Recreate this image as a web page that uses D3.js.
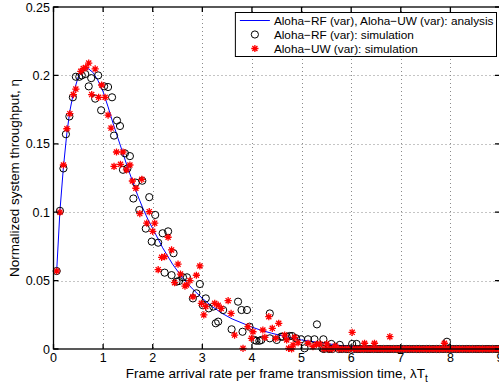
<!DOCTYPE html>
<html>
<head>
<meta charset="utf-8">
<script src="https://cdn.jsdelivr.net/npm/d3@7"></script>
<style>
  body { margin: 0; background: #fff; }
  svg { display: block; }
  text { font-family: "Liberation Sans", Arial, sans-serif; fill: #000; }
</style>
</head>
<body>
<script>
// analysis curve (lambda*Tt, throughput)
var analysis = [[0.064,0.057],[0.13,0.101],[0.2,0.133],[0.27,0.158],[0.33,0.174],[0.4,0.187],[0.5,0.199],
  [0.6,0.204],[0.7,0.205],[0.8,0.202],[0.9,0.196],[1.0,0.188],[1.1,0.177],[1.2,0.165],[1.3,0.154],
  [1.4,0.143],[1.5,0.132],[1.6,0.122],[1.7,0.112],[1.8,0.103],[1.9,0.095],[2.0,0.088],[2.2,0.074],
  [2.4,0.062],[2.6,0.052],[2.8,0.044],[3.0,0.037],[3.2,0.031],[3.4,0.026],[3.6,0.022],[3.8,0.019],
  [4.0,0.016],[4.2,0.0135],[4.4,0.0115],[4.6,0.0097],[4.8,0.0081],[5.0,0.0066],[5.4,0.0045],
  [5.8,0.0025],[6.2,0.0015],[7.0,0.0006],[8.0,0.0002],[9.0,0.0001]];

// Aloha-RF (var): simulation
var rfSim = [[0.064,0.057],[0.13,0.101],[0.20,0.132],[0.25,0.157],[0.32,0.170],[0.39,0.184],[0.45,0.199],
  [0.52,0.199],[0.57,0.200],[0.64,0.201],[0.71,0.192],[0.76,0.198],[0.84,0.183],[0.90,0.200],[0.96,0.1745],
  [1.02,0.192],[1.10,0.1915],[1.18,0.184],[1.22,0.156],[1.28,0.167],[1.34,0.163],[1.40,0.131],[1.44,0.143],
  [1.49,0.132],[1.54,0.141],[1.61,0.110],[1.66,0.1216],[1.73,0.1016],[1.79,0.123],[1.86,0.088],[1.93,0.111],
  [1.98,0.0785],[2.05,0.098],[2.11,0.0777],[2.20,0.0846],[2.24,0.0558],[2.31,0.086],[2.38,0.054],[2.42,0.070],
  [2.48,0.0492],[2.53,0.0497],[2.61,0.0524],[2.69,0.0524],[2.81,0.037],[2.88,0.0407],[2.95,0.0475],[3.01,0.032],
  [3.07,0.037],[3.13,0.0297],[3.22,0.031],[3.27,0.0188],[3.32,0.020],[3.42,0.0285],[3.59,0.0144],[3.72,0.0346],
  [3.79,0.0285],[3.81,0.0126],[3.90,0.0285],[3.95,0.0163],[4.05,0.0066],[4.09,0.006],[4.15,0.006],[4.19,0.0066],
  [4.36,0.026],[4.36,0.0078],[4.50,0.0066],[4.59,0.009],[4.62,0.009],[4.70,0.009],[4.76,0.0095],[4.81,0.0095],
  [4.89,0.0078],[4.99,0.0071],[5.06,0.0005],[5.13,0.0071],[5.26,0.0071],[5.31,0.018],[5.42,0.0005],[5.44,0.0071],
  [5.56,0.0005],[5.60,0.0037],[5.77,0.003],[6.02,0.0037],[6.11,0.0037],[7.93,0.0053]];

// Aloha-UW (var): simulation
var uwSim = [[0.064,0.057],[0.13,0.100],[0.20,0.1345],[0.27,0.161],[0.33,0.172],[0.40,0.186],[0.45,0.190],
  [0.55,0.203],[0.60,0.205],[0.65,0.2057],[0.71,0.209],[0.77,0.186],[0.84,0.2047],[0.91,0.184],[0.97,0.193],
  [1.04,0.184],[1.10,0.171],[1.16,0.1615],[1.22,0.1335],[1.27,0.144],[1.35,0.135],[1.40,0.144],[1.47,0.131],
  [1.54,0.1345],[1.59,0.1228],[1.66,0.1175],[1.74,0.099],[1.78,0.124],[1.88,0.092],[1.93,0.1004],[2.00,0.086],
  [2.04,0.092],[2.11,0.058],[2.18,0.067],[2.24,0.0675],[2.31,0.0817],[2.38,0.0724],[2.44,0.0485],[2.51,0.062],
  [2.56,0.0548],[2.65,0.046],[2.68,0.0468],[2.75,0.050],[2.81,0.0382],[2.88,0.0539],[2.95,0.0607],[2.98,0.0334],
  [3.03,0.0249],[3.07,0.031],[3.25,0.0334],[3.32,0.032],[3.38,0.0297],[3.52,0.0353],[3.58,0.026],[3.65,0.0102],
  [3.82,0.0005],[3.92,0.0163],[3.99,0.0078],[4.02,0.0126],[4.22,0.0139],[4.26,0.0085],[4.34,0.0236],[4.41,0.0151],
  [4.48,0.0078],[4.54,0.0188],[4.66,0.0102],[4.70,0.0066],[4.74,0.0005],[4.80,0.0],[4.83,0.003],[4.86,0.0085],
  [4.93,0.0046],[5.13,0.0042],[5.23,0.0017],[5.30,0.0034],[5.37,0.0037],[5.51,0.0037],[5.68,0.0022],
  [6.02,0.0122],[6.27,0.0042],[6.47,0.0042],[6.78,0.009],[7.88,0.0042]];

// x positions where both simulations give zero throughput
var zeroX = [5.45,5.55,5.62,5.75,5.82,5.9,5.95,6.05,6.12,6.18,6.25,6.32,6.38,6.45,6.52,6.58,6.65,6.72,
  6.78,6.85,6.92,6.98,7.05,7.12,7.18,7.25,7.32,7.38,7.45,7.52,7.58,7.65,7.72,7.78,7.85,7.92,7.98,8.05,
  8.12,8.18,8.25,8.32,8.38,8.45,8.52,8.58,8.65,8.72,8.78,8.85,8.92,8.98];

var xTicks = [0,1,2,3,4,5,6,7,8,9];
var yTicks = [0,0.05,0.1,0.15,0.2,0.25];
var legendLabels = ["Aloha\u2212RF (var), Aloha\u2212UW (var): analysis",
  "Aloha\u2212RF (var): simulation", "Aloha\u2212UW (var): simulation"];

var width = 499, height = 387;
var margin = {left: 53.5, top: 7, right: -1, bottom: 38};

var svg = d3.select("body").append("svg")
  .attr("width", width).attr("height", height);

var x = d3.scaleLinear().domain([0, 9]).range([margin.left, width - margin.right]);
var y = d3.scaleLinear().domain([0, 0.25]).range([height - margin.bottom, margin.top]);

// dotted grid
var grid = svg.append("g").attr("class", "grid")
  .attr("stroke", "#8a8a8a").attr("stroke-width", 1).attr("stroke-dasharray", "1,3");
grid.selectAll(".gx").data(xTicks.slice(1, -1)).enter().append("line")
  .attr("x1", function(d){ return Math.round(x(d)) + 0.5; })
  .attr("x2", function(d){ return Math.round(x(d)) + 0.5; })
  .attr("y1", y(0.25)).attr("y2", y(0));
grid.selectAll(".gy").data(yTicks.slice(1, -1)).enter().append("line")
  .attr("y1", function(d){ return Math.round(y(d)) + 0.5; })
  .attr("y2", function(d){ return Math.round(y(d)) + 0.5; })
  .attr("x1", x(0)).attr("x2", x(9));

// data
var line = d3.line()
  .x(function(d){ return x(d[0]); })
  .y(function(d){ return y(d[1]); });

svg.append("path").datum(analysis)
  .attr("d", line)
  .attr("fill", "none").attr("stroke", "#0000ff").attr("stroke-width", 1);

var circles = rfSim.concat(zeroX.map(function(v){ return [v, 0]; }));
var stars = uwSim.concat(zeroX.map(function(v){ return [v, 0]; }));

function starPath(s) {
  var d = s * 0.7071;
  return "M" + (-s) + ",0L" + s + ",0M0," + (-s) + "L0," + s +
    "M" + (-d) + "," + (-d) + "L" + d + "," + d + "M" + (-d) + "," + d + "L" + d + "," + (-d);
}

svg.append("g").selectAll("circle").data(circles).enter().append("circle")
  .attr("cx", function(d){ return x(d[0]); })
  .attr("cy", function(d){ return y(d[1]); })
  .attr("r", 3.6)
  .attr("fill", "none").attr("stroke", "#000").attr("stroke-width", 1);

svg.append("g").selectAll("path").data(stars).enter().append("path")
  .attr("transform", function(d){ return "translate(" + x(d[0]) + "," + y(d[1]) + ")"; })
  .attr("d", starPath(3.6))
  .attr("fill", "none").attr("stroke", "#ff0000").attr("stroke-width", 1.3);

// axes box
var axisG = svg.append("g").attr("stroke", "#000").attr("stroke-width", 1.3).attr("fill", "none");
axisG.append("rect")
  .attr("x", x(0)).attr("y", y(0.25))
  .attr("width", x(9) - x(0)).attr("height", y(0) - y(0.25));

var tickLen = 5;
axisG.selectAll(".tb").data(xTicks).enter().append("path")
  .attr("d", function(d){ var px = x(d);
    return "M" + px + "," + y(0) + "V" + (y(0) - tickLen) + "M" + px + "," + y(0.25) + "V" + (y(0.25) + tickLen); });
axisG.selectAll(".tl").data(yTicks).enter().append("path")
  .attr("d", function(d){ var py = y(d);
    return "M" + x(0) + "," + py + "H" + (x(0) + tickLen) + "M" + x(9) + "," + py + "H" + (x(9) - tickLen); });

// tick labels
svg.append("g").selectAll("text").data(xTicks).enter().append("text")
  .attr("x", function(d){ return x(d); })
  .attr("y", y(0) + 13)
  .attr("text-anchor", "middle")
  .attr("font-size", "12.5px")
  .text(function(d){ return d; });

svg.append("g").selectAll("text").data(yTicks).enter().append("text")
  .attr("x", x(0) - 3.5)
  .attr("y", function(d){ return y(d) + 4.5; })
  .attr("text-anchor", "end")
  .attr("font-size", "12.5px")
  .text(function(d){ return d; });

// axis titles
var xTitle = svg.append("text")
  .attr("x", (x(0) + x(9)) / 2)
  .attr("y", 378)
  .attr("text-anchor", "middle")
  .attr("font-size", "13.5px")
  .text("Frame arrival rate per frame transmission time, \u03bbT");
xTitle.append("tspan").attr("dy", 4).attr("font-size", "10px").text("t");

svg.append("text")
  .attr("transform", "translate(19," + ((y(0) + y(0.25)) / 2) + ") rotate(-90)")
  .attr("text-anchor", "middle")
  .attr("font-size", "13.5px")
  .text("Normalized system throughput, \u03b7");

// legend
var legLeft = 232.5, legRight = 496.5;
var leg = svg.append("g").attr("class", "legend");
leg.append("rect")
  .attr("x", legLeft).attr("y", 12.5).attr("width", legRight - legLeft).attr("height", 44)
  .attr("fill", "#fff").attr("stroke", "#000").attr("stroke-width", 1);

var rows = leg.selectAll(".row").data(legendLabels).enter().append("g")
  .attr("transform", function(d, i){ return "translate(0," + (20.5 + i * 14) + ")"; });
rows.append("text")
  .attr("x", legRight - 2).attr("y", 4.2)
  .attr("text-anchor", i => "start")
  .attr("font-size", "11.8px")
  .text(function(d){ return d; });

// left-align all rows to the first row's start
var firstW = rows.select("text").node().getComputedTextLength();
var textX = legRight - 3 - firstW;
rows.select("text").attr("x", textX);

var sampleC = textX - 19;
d3.select(rows.nodes()[0]).append("line")
  .attr("x1", sampleC - 15).attr("x2", sampleC + 15).attr("y1", 0).attr("y2", 0)
  .attr("stroke", "#0000ff").attr("stroke-width", 1);
d3.select(rows.nodes()[1]).append("circle")
  .attr("cx", sampleC).attr("cy", 0).attr("r", 3.6)
  .attr("fill", "none").attr("stroke", "#000");
d3.select(rows.nodes()[2]).append("path")
  .attr("transform", "translate(" + sampleC + ",0)")
  .attr("d", starPath(3.6))
  .attr("fill", "none").attr("stroke", "#ff0000").attr("stroke-width", 1.3);
leg.select("rect").attr("x", sampleC - 19.5).attr("width", legRight - (sampleC - 19.5));
</script>
</body>
</html>
